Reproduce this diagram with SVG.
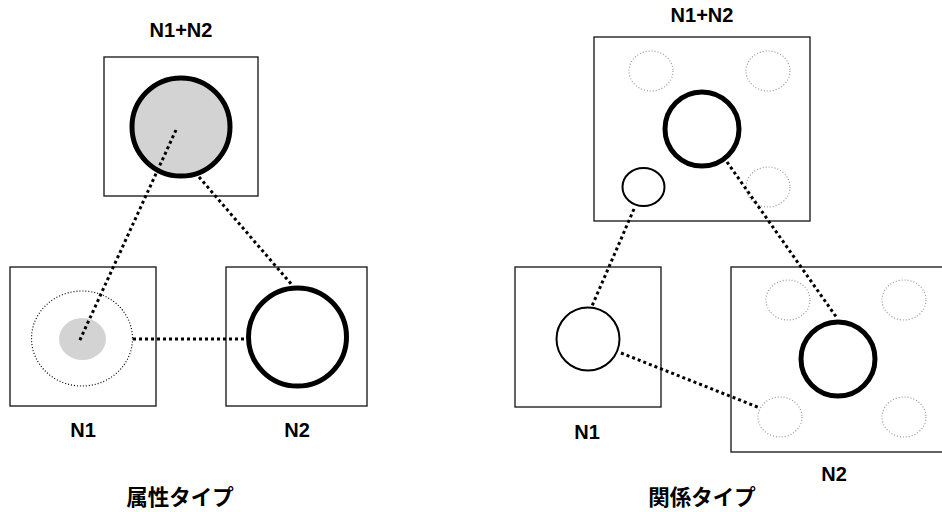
<svg xmlns="http://www.w3.org/2000/svg" width="942" height="512" viewBox="0 0 942 512">
  <style>
    .box { fill: #ffffff; stroke: #222222; stroke-width: 1.4; }
    .thick { fill: #ffffff; stroke: #000000; stroke-width: 5; }
    .thin { fill: #ffffff; stroke: #000000; stroke-width: 2; }
    .ghost { fill: none; stroke: #999999; stroke-width: 1.2; stroke-dasharray: 1 2; }
    .halo { fill: none; stroke: #000000; stroke-width: 1.2; stroke-dasharray: 1 2; }
    .link { fill: none; stroke: #000000; stroke-width: 3; stroke-dasharray: 3 3; }
    .label { font-family: "Liberation Sans", Arial, sans-serif; font-weight: bold; font-size: 20px; fill: #000000; text-anchor: middle; }
    .title { font-family: "Noto Sans CJK JP", "Noto Sans", sans-serif; font-weight: bold; font-size: 21.5px; fill: #000000; text-anchor: middle; }
  </style>

  <!-- Attribute type -->
  <g id="attr-merged">
    <rect class="box" x="104" y="57" width="154" height="139"/>
    <circle cx="181" cy="127" r="49" fill="#d3d3d3" stroke="#000000" stroke-width="5"/>
    <text class="label" x="181" y="37">N1+N2</text>
  </g>
  <g id="attr-n1">
    <rect class="box" x="10" y="267" width="146" height="139"/>
    <ellipse class="halo" cx="82" cy="338.5" rx="50.5" ry="47.5"/>
    <ellipse cx="82.5" cy="339" rx="23.5" ry="21" fill="#d3d3d3"/>
    <text class="label" x="83" y="437">N1</text>
  </g>
  <g id="attr-n2">
    <rect class="box" x="226" y="267" width="141" height="139"/>
    <circle class="thick" cx="297.5" cy="337" r="49"/>
    <text class="label" x="297" y="437">N2</text>
  </g>
  <g id="attr-title">
    <text class="title" x="180" y="505">属性タイプ</text>
  </g>

  <!-- Relation type -->
  <g id="rel-merged">
    <rect class="box" x="594" y="37" width="216" height="184"/>
    <ellipse class="ghost" cx="651" cy="71" rx="22" ry="20"/>
    <ellipse class="ghost" cx="768" cy="71" rx="22" ry="20"/>
    <ellipse class="ghost" cx="768" cy="187" rx="22" ry="20"/>
    <circle class="thick" cx="702" cy="129" r="37"/>
    <ellipse class="thin" cx="643.5" cy="187" rx="21" ry="19"/>
    <text class="label" x="702" y="22">N1+N2</text>
  </g>
  <g id="rel-n1">
    <rect class="box" x="515" y="267" width="146" height="140"/>
    <circle class="thin" cx="588" cy="339" r="31.5"/>
    <text class="label" x="587" y="439">N1</text>
  </g>
  <g id="rel-n2">
    <rect class="box" x="731" y="267" width="220" height="185"/>
    <ellipse class="ghost" cx="788" cy="300" rx="22" ry="20"/>
    <ellipse class="ghost" cx="904" cy="300" rx="22" ry="20"/>
    <ellipse class="ghost" cx="780" cy="417" rx="22" ry="20"/>
    <ellipse class="ghost" cx="904" cy="417" rx="22" ry="20"/>
    <circle class="thick" cx="838" cy="359" r="37"/>
    <text class="label" x="834" y="481">N2</text>
  </g>
  <g id="rel-title">
    <text class="title" x="702" y="505">関係タイプ</text>
  </g>

  <!-- Connectors -->
  <g id="connectors">
    <line class="link" x1="176" y1="130" x2="79" y2="342"/>
    <line class="link" x1="199" y1="177" x2="292" y2="285"/>
    <line class="link" x1="133" y1="339" x2="247" y2="339"/>
    <line class="link" x1="634" y1="209" x2="592" y2="306"/>
    <line class="link" x1="727" y1="162" x2="837" y2="318"/>
    <line class="link" x1="621" y1="353" x2="760" y2="408"/>
  </g>
</svg>
